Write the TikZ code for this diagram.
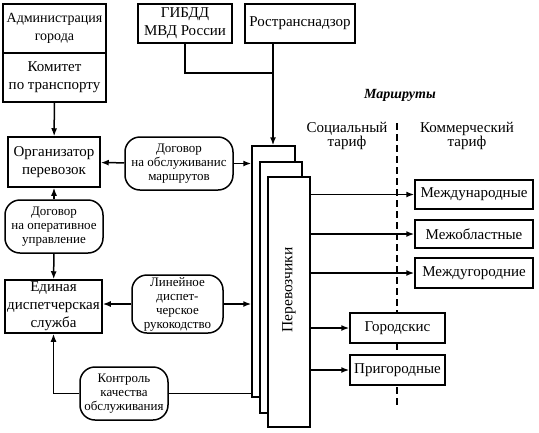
\documentclass[tikz,border=0pt]{standalone}
\usepackage{fontspec}
\setmainfont{Liberation Serif}
\usetikzlibrary{arrows.meta}

\begin{document}
\begin{tikzpicture}[x=1pt,y=-1pt,>={Latex[length=8pt,width=6pt]},line width=1.5pt,
    box/.style={draw,fill=white,align=center,inner sep=1pt,font=\fontsize{15}{18}\selectfont},
    oval/.style={draw,fill=white,rounded corners=15pt,align=center,inner sep=1pt,font=\fontsize{13}{14}\selectfont},
    sheet/.style={draw,fill=white,inner sep=0pt,minimum width=42pt}]
  \useasboundingbox (0,0) rectangle (539,432);

  % left column
  \node[box,inner sep=0pt,font=\fontsize{14}{18}\selectfont,minimum width=103pt,minimum height=49pt] (adm) at (54.5,28.5) {Администрация\\города};
  \node[box,minimum width=103pt,minimum height=49pt] (kom) at (54.5,77.5) {Комитет\\по транспорту};
  \node[box,minimum width=92pt,minimum height=50pt] (org) at (54,162) {Организатор\\перевозок};
  \node[oval,minimum width=98pt,minimum height=53pt] (dog2) at (54,226.5) {Договор\\на оперативное\\управление};
  \node[box,minimum width=97pt,minimum height=53pt] (edin) at (53.5,306.5) {Единая\\диспетчерская\\служба};

  % middle
  \node[oval,minimum width=108pt,minimum height=53pt] (dog1) at (179,163.5) {Договор\\на обслуживанис\\маршрутов};
  \node[oval,minimum width=91pt,minimum height=58pt] (lin) at (177.5,304) {Линейное\\диспет-\\черское\\рукокодство};
  \node[oval,minimum width=88pt,minimum height=53pt] (kontr) at (124,393.5) {Контроль\\качества\\обслуживания};

  % top
  \node[box,minimum width=94pt,minimum height=39pt] (gibdd) at (185,23.5) {ГИБДД\\МВД России};
  \node[box,minimum width=110pt,minimum height=39pt] (rtn) at (300,23.5) {Ространснадзор};
  \coordinate (j) at (273,73);

  % carriers
  \node[sheet,minimum width=43pt,minimum height=251pt] (p1) at (273.5,271.5) {};
  \node[sheet,minimum height=251pt] (p2) at (281,287.5) {};
  \node[sheet,minimum height=250pt] (p3) at (289,302) {};
  \node[rotate=90,font=\fontsize{15.5}{18}\selectfont] (per) at (289,290) {Перевозчики};

  % routes
  \node[font=\bfseries\itshape\fontsize{14}{16}\selectfont] (mar) at (400,95) {Маршруты};
  \node[align=center,font=\fontsize{15}{14}\selectfont] (soc) at (347,136) {Социальный\\тариф};
  \node[align=center,font=\fontsize{15}{14}\selectfont] (kmr) at (467,136) {Коммерческий\\тариф};
  \coordinate (d1) at (397,123);
  \coordinate (d2) at (397,408);
  \draw[line width=1.3pt,dash pattern=on 7pt off 4pt] (d1) -- (d2);

  \node[box,minimum width=118pt,minimum height=29pt] (mn) at (474,194.5) {Международные};
  \node[box,minimum width=118pt,minimum height=28pt] (mo) at (474,234) {Межобластные};
  \node[box,minimum width=118pt,minimum height=30pt] (mg) at (474,273) {Междугородние};
  \node[box,minimum width=95pt,minimum height=30pt] (gor) at (397.5,328) {Городскис};
  \node[box,minimum width=95pt,minimum height=30pt] (prig) at (397.5,370) {Пригородные};

  % connectors
  \draw[->] (kom) -- (org);
  \draw[->] (dog1) -- (org);
  \draw[->] (dog1) -- (dog1 -| p1.west);
  \draw[->] (dog2) -- (org);
  \draw[->] (dog2) -- (edin);
  \draw[->] (lin.west) -- (lin.west -| edin.east);
  \draw[->] (lin.east) -- (lin.east -| p1.west);
  \draw (kontr.east) -- (kontr.east -| p1.west);
  \draw[->] (kontr.west) -| (edin.south);
  \draw (gibdd.south) |- (j);
  \draw[->] (rtn.south -| j) -- (j |- p1.north);

  \draw[->] (p3.east |- mn.west) -- (mn.west);
  \draw[->] (p3.east |- mo.west) -- (mo.west);
  \draw[->] (p3.east |- mg.west) -- (mg.west);
  \draw[->] (p3.east |- gor.west) -- (gor.west);
  \draw[->] (p3.east |- prig.west) -- (prig.west);
\end{tikzpicture}
\end{document}
